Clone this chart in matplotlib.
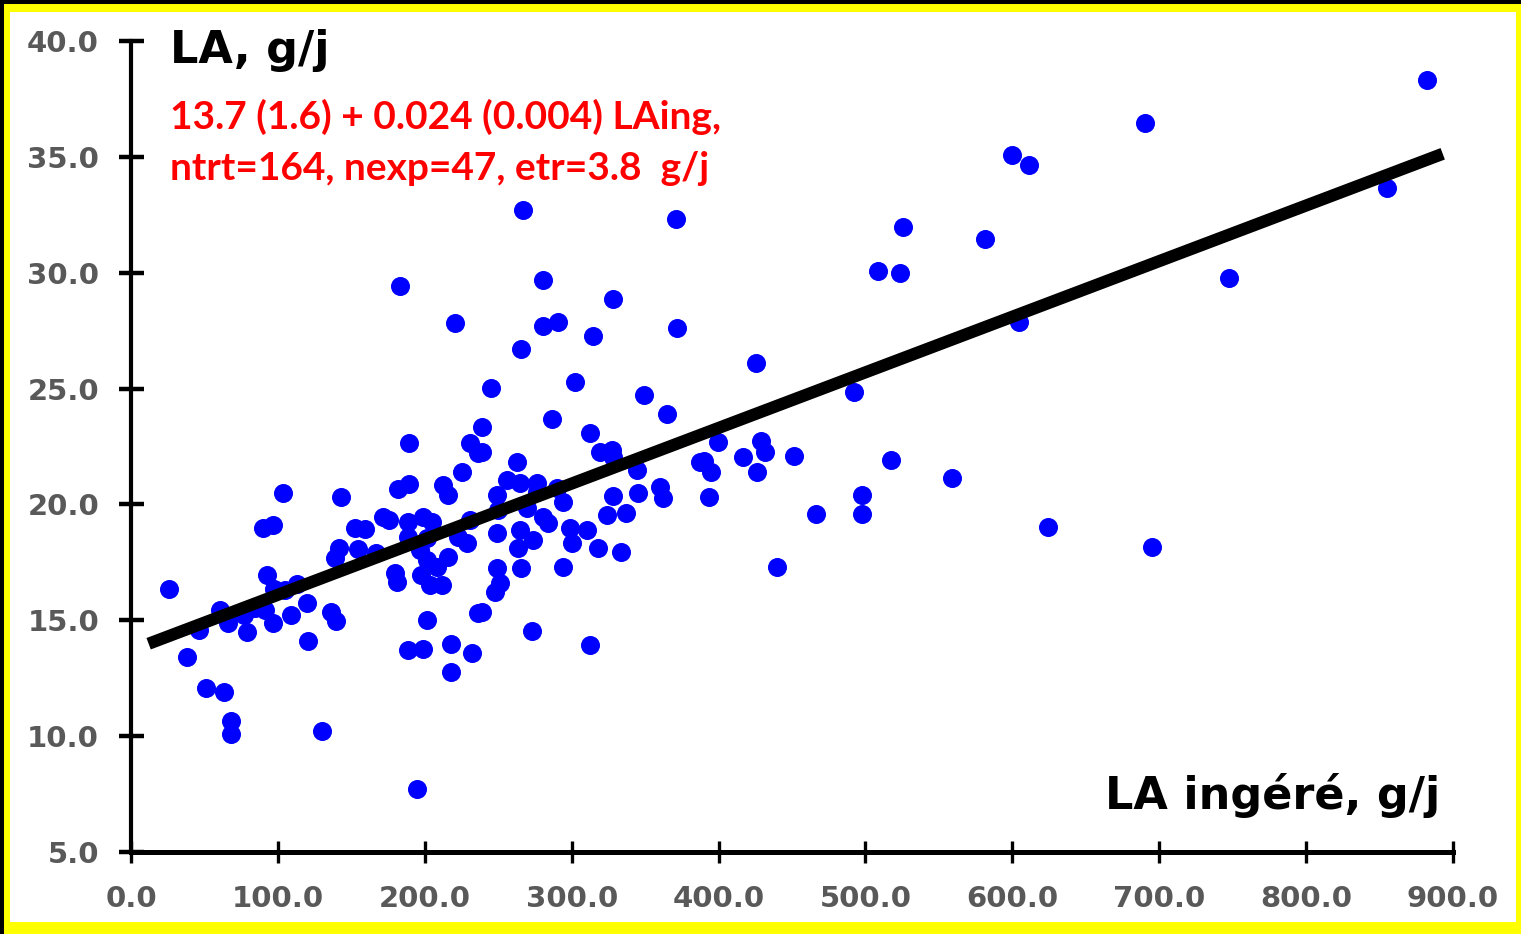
import matplotlib.pyplot as plt
from matplotlib.patches import Rectangle

# LA ingéré (g/j) and LA mesuré (g/j), one point per treatment
la_ing = [
    25.9, 38.1, 46.3, 51.1, 63.3, 68.1, 68.1, 60.6, 66.0, 76.9,
    79.0, 84.4, 91.2, 96.7, 108.9, 119.8, 92.6, 97.3, 104.8, 113.0,
    89.9, 96.7, 103.5, 130.0, 120.5, 136.1, 139.5, 138.9, 141.6, 143.0,
    152.5, 159.3, 154.5, 166.8, 171.5, 175.6, 181.8, 189.2, 189.2, 183.1,
    179.7, 181.1, 188.6, 188.6, 198.8, 204.9, 201.5, 196.7, 201.5, 197.4,
    203.5, 211.7, 208.3, 215.8, 212.4, 215.8, 225.3, 230.8, 236.2, 230.8,
    228.7, 222.6, 201.5, 236.2, 188.6, 198.8, 217.8, 217.8, 232.1, 194.7,
    220.6, 238.9, 245.1, 238.9, 262.8, 256.0, 264.8, 276.4, 276.4, 290.0,
    249.1, 249.8, 269.6, 294.1, 249.1, 264.8, 280.5, 283.9, 298.8, 310.4,
    273.7, 263.4, 300.2, 317.9, 333.6, 249.1, 265.5, 294.1, 251.2, 247.8,
    238.9, 273.0, 312.5, 266.8, 371.0, 280.5, 328.1, 280.5, 290.7, 314.5,
    371.7, 265.5, 302.2, 349.2, 364.9, 286.6, 312.5, 319.3, 327.4, 328.1,
    344.5, 328.1, 345.1, 360.1, 362.1, 324.0, 337.0, 387.3, 399.6, 428.9,
    431.6, 390.1, 394.8, 416.6, 426.1, 451.3, 393.5, 425.5, 492.2, 517.4,
    558.9, 497.6, 497.6, 466.3, 439.8, 624.2, 695.0, 882.2, 690.3, 599.7,
    611.3, 855.0, 525.5, 581.3, 508.5, 523.5, 747.4, 604.5,
]
la_obs = [
    16.35, 13.41, 14.58, 12.08, 11.90, 10.65, 10.09, 15.44, 14.88, 15.23,
    14.49, 15.53, 15.44, 14.88, 15.23, 15.74, 16.95, 16.35, 16.31, 16.56,
    18.98, 19.11, 20.49, 10.22, 14.10, 15.36, 14.97, 17.69, 18.12, 20.32,
    18.98, 18.94, 18.07, 17.90, 19.46, 19.33, 20.66, 20.88, 22.65, 29.43,
    17.04, 16.65, 19.24, 18.59, 19.46, 19.24, 18.55, 18.03, 17.60, 16.95,
    16.52, 16.52, 17.30, 17.73, 20.84, 20.41, 21.40, 22.65, 22.22, 19.33,
    18.33, 18.59, 15.01, 15.31, 13.72, 13.76, 13.97, 12.77, 13.59, 7.72,
    27.83, 23.34, 25.02, 22.26, 21.83, 21.05, 20.92, 20.92, 20.54, 20.71,
    20.41, 19.76, 19.84, 20.10, 18.77, 18.90, 19.46, 19.20, 18.98, 18.90,
    18.46, 18.12, 18.33, 18.12, 17.95, 17.26, 17.26, 17.30, 16.61, 16.22,
    15.36, 14.54, 13.93, 32.71, 32.32, 29.68, 28.86, 27.70, 27.87, 27.27,
    27.61, 26.71, 25.28, 24.72, 23.90, 23.69, 23.08, 22.26, 22.35, 22.05,
    21.48, 20.36, 20.49, 20.75, 20.28, 19.54, 19.63, 21.83, 22.69, 22.74,
    22.26, 21.87, 21.40, 22.05, 21.40, 22.09, 20.32, 26.10, 24.85, 21.92,
    21.14, 20.41, 19.59, 19.59, 17.30, 19.02, 18.16, 38.32, 36.46, 35.08,
    34.65, 33.66, 31.97, 31.45, 30.07, 29.99, 29.77, 27.87,
]

# fitted model: LA = 13.7 + 0.024 * LAing
intercept = 13.7
slope = 0.024
fit_range = [12.0, 893.0]

x_ticks = [0, 100, 200, 300, 400, 500, 600, 700, 800, 900]
y_ticks = [5, 10, 15, 20, 25, 30, 35, 40]

W, H = 1521, 934
fig = plt.figure(figsize=(W / 100, H / 100), dpi=100)

# black shadow top/left, yellow frame, white card
fig.patches.append(Rectangle((0, 0), 1, 1, transform=fig.transFigure,
                             facecolor="black", zorder=-3))
fig.patches.append(Rectangle((4 / W, 0), 1 - 4 / W, 1 - 4 / H, transform=fig.transFigure,
                             facecolor="#FFFF00", zorder=-2))
fig.patches.append(Rectangle((10 / W, 12 / H), 1506 / W, 910 / H, transform=fig.transFigure,
                             facecolor="white", zorder=-1))

ax = fig.add_axes([131 / W, 1 - 852 / H, 1322 / W, 811 / H])
ax.patch.set_visible(False)

ax.plot(la_ing, la_obs, "o", color="#0000FF", ms=13.7, mec="none", zorder=2, clip_on=False)
fit_y = [intercept + slope * v for v in fit_range]
ax.plot(fit_range, fit_y, "-", color="black", lw=8.8, solid_capstyle="butt", zorder=3)

ax.set_xlim(0, 900)
ax.set_ylim(5, 40)
ax.set_xticks(x_ticks)
ax.set_yticks(y_ticks)
ax.set_xticklabels([f"{v:.1f}" for v in x_ticks])
ax.set_yticklabels([f"{v:.1f}" for v in y_ticks])

for side in ("top", "right"):
    ax.spines[side].set_visible(False)
ax.spines["left"].set_linewidth(3.0)
ax.spines["bottom"].set_linewidth(3.6)

tick_font = dict(family="DejaVu Sans", weight="bold", size=21)
ax.tick_params(axis="y", direction="inout", length=18, width=3.2, pad=14,
               labelcolor="#595959")
ax.tick_params(axis="x", direction="inout", length=16, width=2.4, pad=16,
               labelcolor="#595959")
for lab in ax.get_xticklabels() + ax.get_yticklabels():
    lab.set_fontproperties(tick_font)

ax.text(0.0295, 0.973, "LA, g/j", transform=ax.transAxes, ha="left", va="baseline",
        fontsize=32, fontweight="bold", family="DejaVu Sans", color="black")
ax.text(0.990, 0.053, "LA ingéré, g/j", transform=ax.transAxes, ha="right", va="baseline",
        fontsize=32, fontweight="bold", family="DejaVu Sans", color="black")

red_font = dict(fontsize=28, fontweight="bold", family="Lato", color="#FF0000")
ax.text(0.0295, 0.8915, "13.7 (1.6) + 0.024 (0.004) LAing,", transform=ax.transAxes,
        ha="left", va="baseline", **red_font)
ax.text(0.0295, 0.8286, "ntrt=164, nexp=47, etr=3.8  g/j", transform=ax.transAxes,
        ha="left", va="baseline", **red_font)

fig.savefig("out.png", dpi=100)
